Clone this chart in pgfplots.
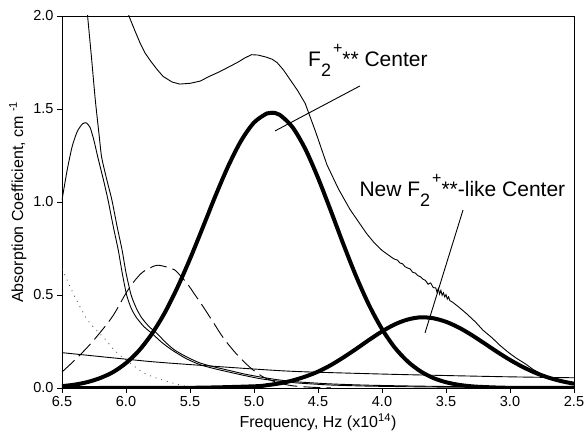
\documentclass[border=0pt]{standalone}
\usepackage{fontspec}
\setmainfont{Liberation Sans}
\usepackage{pgfplots}
\pgfplotsset{compat=1.18}
\begin{document}
\begin{tikzpicture}
\begin{axis}[
  name=ax,
  scale only axis, width=512pt, height=372pt,
  x dir=reverse, xmin=2.5, xmax=6.5, ymin=0, ymax=2,
  xtick={2.5,3.0,3.5,4.0,4.5,5.0,5.5,6.0,6.5},
  ytick={0,0.5,1.0,1.5,2.0},
  tick pos=left, tick align=outside, major tick length=5pt,
  /pgf/number format/fixed, /pgf/number format/fixed zerofill, /pgf/number format/precision=1,
  /pgf/number format/assume math mode=true,
  tick label style={font=\fontsize{14.5}{16}\selectfont},
  label style={font=\fontsize{16}{19}\selectfont},
  xlabel={Frequency, Hz (x10\textsuperscript{14})},
  ylabel={Absorption Coefficient, cm \textsuperscript{-1}},
  axis line style={line width=0.8pt},
  every tick/.style={black, line width=0.8pt},
  clip=true,
]
% total absorption (thin)
\addplot[black, line width=0.9pt] coordinates {
(5.985,2.02) (5.977,2.0) (5.93,1.92) (5.89,1.855) (5.85,1.80) (5.81,1.76) (5.76,1.715) (5.71,1.675) (5.64,1.645) (5.58,1.634) (5.50,1.638) (5.42,1.65) (5.35,1.675) (5.27,1.70) (5.20,1.725) (5.13,1.75) (5.07,1.775) (5.02,1.792) (4.97,1.79) (4.91,1.78) (4.86,1.768) (4.82,1.75) (4.77,1.71) (4.72,1.66) (4.66,1.60) (4.60,1.53) (4.52,1.38) (4.43,1.20) (4.34,1.07) (4.25,0.96) (4.18,0.89) (4.12,0.83) (4.06,0.78) (4.00,0.74)
(3.95,0.715) (3.92,0.70) (3.90,0.692) (3.88,0.688) (3.86,0.672) (3.84,0.668) (3.82,0.652) (3.80,0.645) (3.78,0.64) (3.76,0.622) (3.74,0.618) (3.72,0.604) (3.70,0.598) (3.68,0.585) (3.66,0.578) (3.64,0.558) (3.62,0.565) (3.60,0.540) (3.58,0.538) (3.57,0.515) (3.56,0.535) (3.55,0.505) (3.54,0.525) (3.53,0.498) (3.52,0.512) (3.51,0.490) (3.50,0.502) (3.49,0.478) (3.48,0.490) (3.47,0.470) (3.45,0.462)
(3.40,0.435) (3.34,0.40) (3.27,0.355) (3.21,0.31) (3.14,0.27) (3.08,0.23) (3.01,0.19) (2.95,0.16) (2.88,0.13) (2.82,0.10) (2.74,0.07) (2.66,0.045) (2.58,0.03) (2.50,0.02)};
% UV tail (thin)
\addplot[black, line width=0.9pt, smooth, tension=0.4] coordinates {
(6.32,2.15) (6.30,2.0) (6.27,1.78) (6.24,1.55) (6.21,1.36) (6.19,1.24) (6.15,1.12) (6.11,1.01) (6.07,0.87) (6.03,0.74) (6.00,0.62) (5.96,0.50) (5.92,0.43) (5.88,0.38) (5.82,0.33) (5.76,0.295) (5.69,0.245) (5.62,0.204) (5.52,0.165) (5.42,0.134) (5.31,0.113) (5.21,0.097) (5.08,0.076) (4.95,0.059) (4.80,0.043) (4.64,0.032) (4.40,0.022) (4.10,0.015) (3.70,0.01) (3.20,0.006) (2.50,0.003)};
% 6.3 band (thin)
\addplot[black, line width=0.9pt, smooth, tension=0.4] coordinates {
(6.50,1.01) (6.46,1.17) (6.42,1.30) (6.38,1.38) (6.34,1.42) (6.31,1.425) (6.28,1.40) (6.25,1.33) (6.22,1.24) (6.18,1.13) (6.14,1.01) (6.10,0.87) (6.06,0.74) (6.03,0.62) (5.995,0.50) (5.96,0.43) (5.92,0.38) (5.86,0.33) (5.80,0.295) (5.72,0.245) (5.64,0.204) (5.53,0.158) (5.42,0.125) (5.31,0.104) (5.21,0.088) (5.08,0.068) (4.95,0.050) (4.80,0.036) (4.64,0.026) (4.40,0.016) (4.10,0.010) (3.70,0.006) (3.20,0.003) (2.50,0.001)};
% dashed band
\addplot[black, line width=0.9pt, smooth, dash pattern=on 17pt off 6pt] coordinates {
(6.50,0.086) (6.40,0.15) (6.30,0.22) (6.20,0.30) (6.10,0.39) (6.00,0.51) (5.94,0.57) (5.875,0.62) (5.80,0.65) (5.75,0.66) (5.68,0.65) (5.62,0.635) (5.57,0.60) (5.52,0.56) (5.46,0.50) (5.40,0.44) (5.32,0.355) (5.24,0.27) (5.14,0.185) (5.03,0.11) (4.93,0.06) (4.82,0.03) (4.70,0.012) (4.55,0.004) (4.40,0.001)};
% dotted band
\addplot[black!65, line width=0.9pt, smooth, dash pattern=on 0.9pt off 5pt] coordinates {
(6.50,0.64) (6.45,0.565) (6.40,0.49) (6.35,0.425) (6.30,0.365) (6.23,0.31) (6.16,0.26) (6.10,0.21) (6.03,0.167) (5.95,0.125) (5.875,0.086) (5.80,0.063) (5.70,0.040) (5.60,0.02) (5.50,0.005) (5.40,0.001)};
% background line
\addplot[black, line width=0.9pt, smooth] coordinates {
(6.5,0.19) (6.0,0.155) (5.7,0.136) (5.0,0.102) (4.64,0.088) (4.0,0.075) (3.5,0.067) (3.0,0.06) (2.5,0.055)};
% F2+** center (thick)
\addplot[black, line width=4pt, smooth] coordinates {
(6.5,0.010) (6.4,0.018) (6.3,0.032) (6.2,0.054) (6.1,0.086) (6.0,0.134) (5.9,0.200) (5.8,0.289) (5.7,0.401) (5.6,0.538) (5.5,0.694) (5.4,0.863) (5.3,1.035) (5.2,1.195) (5.1,1.330) (5.0,1.427) (4.9,1.476) (4.86,1.48) (4.8,1.469) (4.7,1.403) (4.6,1.286) (4.5,1.130) (4.4,0.953) (4.3,0.770) (4.2,0.597) (4.1,0.444) (4.0,0.317) (3.9,0.217) (3.8,0.143) (3.7,0.090) (3.6,0.054) (3.5,0.031) (3.4,0.017) (3.3,0.009) (3.2,0.005) (3.0,0.001) (2.5,0.0)};
% new center (thick)
\addplot[black, line width=4pt, smooth] coordinates {
(6.5,0.0) (5.5,0.001) (5.0,0.009) (4.9,0.015) (4.8,0.025) (4.7,0.040) (4.6,0.061) (4.5,0.088) (4.4,0.123) (4.3,0.165) (4.2,0.211) (4.1,0.259) (4.0,0.304) (3.9,0.342) (3.8,0.368) (3.7,0.380) (3.6,0.375) (3.5,0.356) (3.4,0.325) (3.3,0.285) (3.2,0.240) (3.1,0.194) (3.0,0.151) (2.9,0.113) (2.8,0.081) (2.7,0.056) (2.6,0.037) (2.5,0.023)};
% pointers
\addplot[black, line width=0.9pt] coordinates {(4.836,1.382) (4.172,1.624)};
\addplot[black, line width=0.9pt] coordinates {(3.664,0.296) (3.367,0.957)};
\node[anchor=base west, inner sep=0pt, font=\fontsize{21}{24}\selectfont] at (axis cs:4.578,1.726)
  {F\raisebox{-10pt}{\fontsize{18}{18}\selectfont 2}\hspace{2pt}\raisebox{13pt}{\fontsize{16}{16}\selectfont +}** Center};
\node[anchor=base west, inner sep=0pt, font=\fontsize{21}{24}\selectfont] at (axis cs:4.177,1.0285)
  {New F\raisebox{-10pt}{\fontsize{18}{18}\selectfont 2}\hspace{2pt}\raisebox{13pt}{\fontsize{16}{16}\selectfont +}**-like Center};
\end{axis}
\pgfresetboundingbox
\path ([shift={(-62pt,-55pt)}]ax.south west) rectangle ([shift={(11pt,16pt)}]ax.north east);
\end{tikzpicture}
\end{document}
